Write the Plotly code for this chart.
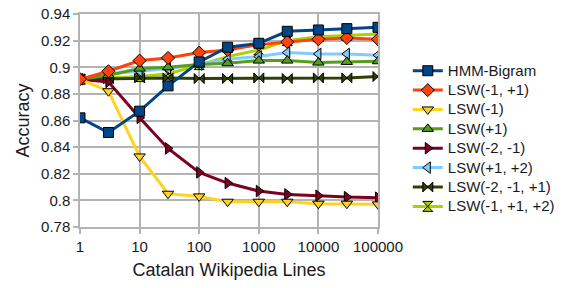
import plotly.graph_objects as go

lines = [1, 3, 10, 30, 100, 300, 1000, 3000, 10000, 30000, 100000]

hmm_bigram = [0.862, 0.851, 0.867, 0.886, 0.904, 0.915, 0.918, 0.927, 0.928, 0.929, 0.930]
lsw_m1_p1 = [0.891, 0.897, 0.905, 0.907, 0.911, 0.913, 0.917, 0.919, 0.921, 0.922, 0.921]
lsw_m1 = [0.891, 0.882, 0.833, 0.805, 0.803, 0.799, 0.799, 0.799, 0.7975, 0.7975, 0.797]
lsw_p1 = [0.891, 0.894, 0.899, 0.900, 0.902, 0.903, 0.905, 0.905, 0.9035, 0.904, 0.9045]
lsw_m2_m1 = [0.891, 0.889, 0.862, 0.839, 0.821, 0.813, 0.807, 0.8045, 0.8035, 0.8025, 0.802]
lsw_p1_p2 = [0.891, 0.895, 0.897, 0.899, 0.902, 0.906, 0.908, 0.911, 0.910, 0.910, 0.909]
lsw_m2_m1_p1 = [0.891, 0.8915, 0.892, 0.892, 0.8915, 0.8915, 0.892, 0.8915, 0.892, 0.892, 0.893]
lsw_m1_p1_p2 = [0.891, 0.892, 0.893, 0.895, 0.902, 0.908, 0.913, 0.920, 0.923, 0.924, 0.925]

series_names = ["HMM-Bigram", "LSW(-1, +1)", "LSW(-1)", "LSW(+1)", "LSW(-2, -1)",
                "LSW(+1, +2)", "LSW(-2, -1, +1)", "LSW(-1, +1, +2)"]
series_values = [hmm_bigram, lsw_m1_p1, lsw_m1, lsw_p1, lsw_m2_m1,
                 lsw_p1_p2, lsw_m2_m1_p1, lsw_m1_p1_p2]
colors = ["#004586", "#ff420e", "#ffd320", "#579d1c", "#7e0021",
          "#83caff", "#314004", "#aecf00"]
symbols = ["square", "diamond", "triangle-down", "triangle-up", "triangle-right",
           "triangle-left", "bowtie", "hourglass"]

y_ticks = [0.78, 0.8, 0.82, 0.84, 0.86, 0.88, 0.9, 0.92, 0.94]
y_ticktext = ["0.78", "0.8", "0.82", "0.84", "0.86", "0.88", "0.9", "0.92", "0.94"]
x_ticks = [1, 10, 100, 1000, 10000, 100000]
x_ticktext = ["1", "10", "100", "1000", "10000", "100000"]

fig = go.Figure()
n = len(series_names)
for i in reversed(range(n)):
    fig.add_trace(go.Scatter(
        x=lines, y=series_values[i],
        name='<span style="font-size:15px">' + series_names[i] + '</span>',
        mode="lines+markers",
        line=dict(color=colors[i], width=3),
        marker=dict(symbol=symbols[i], size=10, color=colors[i],
                    line=dict(color="#000000", width=1)),
        legendrank=i + 1,
    ))

font = "Liberation Sans, Arial, sans-serif"
fig.update_layout(
    width=576, height=288,
    margin=dict(l=80, r=198, t=14, b=61, autoexpand=False),
    paper_bgcolor="white", plot_bgcolor="white",
    font=dict(family=font, size=15, color="#1a1a1a"),
    showlegend=True,
    legend=dict(x=1.10, y=0.413, xanchor="left", yanchor="middle",
                font=dict(size=12.6), tracegroupgap=0, itemwidth=30,
                bgcolor="rgba(0,0,0,0)"),
    xaxis=dict(type="log", range=[0, 5], tickvals=x_ticks, ticktext=x_ticktext,
               showgrid=True, gridcolor="#b3b3b3", gridwidth=1.5,
               showline=True, linecolor="#b3b3b3", linewidth=1.5, mirror=True,
               ticks="outside", ticklen=5, tickcolor="#b3b3b3", tickwidth=1.5,
               ticklabeloverflow="allow",
               title=dict(text="Catalan Wikipedia Lines", standoff=10),
               zeroline=False, automargin=False),
    yaxis=dict(range=[0.78, 0.94], tickvals=y_ticks, ticktext=y_ticktext,
               showgrid=True, gridcolor="#b3b3b3", gridwidth=1.5,
               showline=True, linecolor="#b3b3b3", linewidth=1.5, mirror=True,
               ticks="outside", ticklen=5, tickcolor="#b3b3b3", tickwidth=1.5,
               ticklabeloverflow="allow",
               title=dict(text="Accuracy", standoff=7),
               zeroline=False, automargin=False),
)

fig.write_html("out.html", config={"displayModeBar": False},
               post_script="document.body.style.margin='0';")
